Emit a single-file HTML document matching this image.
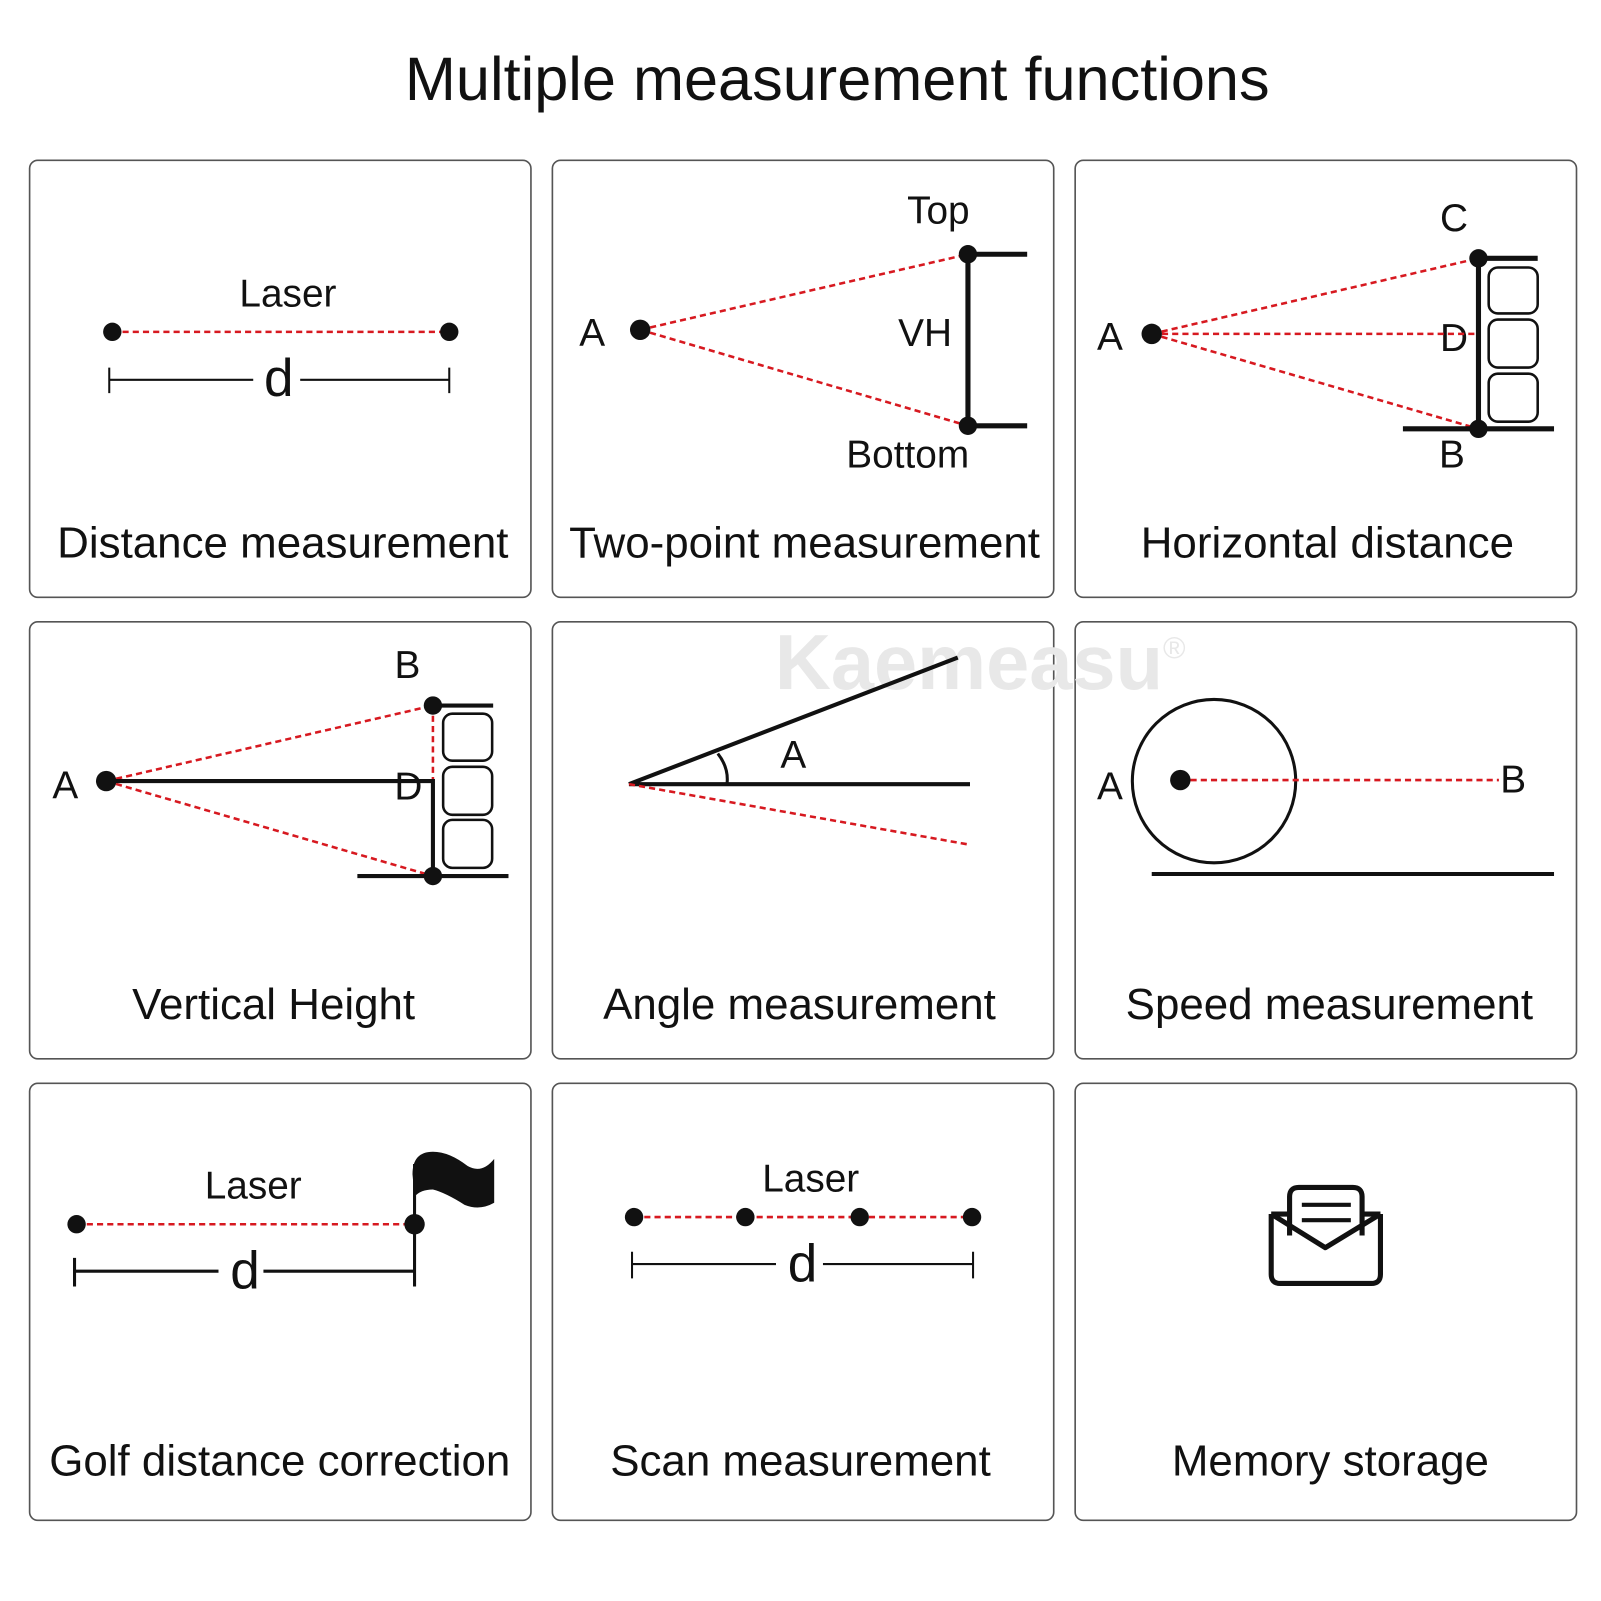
<!DOCTYPE html>
<html><head><meta charset="utf-8"><style>html,body{margin:0;padding:0;background:#fff}svg{display:block}</style></head>
<body>
<svg width="1601" height="1601" viewBox="0 0 1568 1568" xmlns="http://www.w3.org/2000/svg" font-family="Liberation Sans, Arial, sans-serif">
<rect width="1568" height="1568" fill="#fff"/>
<text x="820" y="98" font-size="60" text-anchor="middle" fill="#111">Multiple measurement functions</text>
<g fill="none" stroke="#555" stroke-width="1.6">
<rect x="29" y="157" width="491" height="428" rx="8"/>
<rect x="541" y="157" width="491" height="428" rx="8"/>
<rect x="1053" y="157" width="491" height="428" rx="8"/>
<rect x="29" y="609" width="491" height="428" rx="8"/>
<rect x="541" y="609" width="491" height="428" rx="8"/>
<rect x="1053" y="609" width="491" height="428" rx="8"/>
<rect x="29" y="1061" width="491" height="428" rx="8"/>
<rect x="541" y="1061" width="491" height="428" rx="8"/>
<rect x="1053" y="1061" width="491" height="428" rx="8"/>
</g>
<text x="960" y="675" font-size="76" font-weight="bold" text-anchor="middle" fill="#e8e8e8">Kaemeasu<tspan font-size="30" dy="-30" font-weight="normal">®</tspan></text>
<g font-size="43" fill="#111" text-anchor="middle">
<text x="277" y="546">Distance measurement</text>
<text x="788" y="546">Two-point measurement</text>
<text x="1300" y="546">Horizontal distance</text>
<text x="268" y="998">Vertical Height</text>
<text x="783" y="998">Angle measurement</text>
<text x="1302" y="998">Speed measurement</text>
<text x="274" y="1445">Golf distance correction</text>
<text x="784" y="1445">Scan measurement</text>
<text x="1303" y="1445">Memory storage</text>
</g>
<g font-size="38" fill="#111" text-anchor="middle">
<text x="282" y="300">Laser</text>
<line x1="110" y1="325" x2="440" y2="325" stroke="#d71920" stroke-width="2.5" stroke-dasharray="6,4"/>
<circle cx="110" cy="325" r="9"/><circle cx="440" cy="325" r="9"/>
<path d="M107 360v25M107 372H248M294 372H440M440 360v25" stroke="#111" stroke-width="2" fill="none"/>
<text x="273" y="388" font-size="52">d</text>
<text x="919" y="219">Top</text><text x="580" y="339">A</text><text x="906" y="339">VH</text><text x="889" y="458">Bottom</text>
<path d="M627 323L948 249M627 323L948 417" stroke="#d71920" stroke-width="2.5" stroke-dasharray="6,4" fill="none"/>
<path d="M948 249V417M948 249H1006M948 417H1006" stroke="#111" stroke-width="5" fill="none"/>
<circle cx="627" cy="323" r="10"/><circle cx="948" cy="249" r="9"/><circle cx="948" cy="417" r="9"/>
<text x="1424" y="226">C</text><text x="1087" y="343">A</text><text x="1424" y="344">D</text><text x="1422" y="458">B</text>
<path d="M1128 327L1448 253M1128 327L1448 327M1128 327L1448 420" stroke="#d71920" stroke-width="2.5" stroke-dasharray="6,4" fill="none"/>
<path d="M1448 253V420M1448 253H1506M1374 420H1522" stroke="#111" stroke-width="5" fill="none"/>
<g fill="none" stroke="#111" stroke-width="2.5"><rect x="1458" y="262" width="48" height="45" rx="9"/><rect x="1458" y="313" width="48" height="47" rx="9"/><rect x="1458" y="366" width="48" height="47" rx="9"/></g>
<circle cx="1128" cy="327" r="10"/><circle cx="1448" cy="253" r="9"/><circle cx="1448" cy="420" r="9"/>
<text x="399" y="664">B</text><text x="64" y="782">A</text><text x="400" y="783">D</text>
<path d="M104 765L424 691M104 765L424 858M424 691V765" stroke="#d71920" stroke-width="2.5" stroke-dasharray="6,4" fill="none"/>
<path d="M104 765H424V858M424 691H483M350 858H498" stroke="#111" stroke-width="4" fill="none"/>
<g fill="none" stroke="#111" stroke-width="2.5"><rect x="434" y="699" width="48" height="46" rx="9"/><rect x="434" y="751" width="48" height="47" rx="9"/><rect x="434" y="803" width="48" height="47" rx="9"/></g>
<circle cx="104" cy="765" r="10"/><circle cx="424" cy="691" r="9"/><circle cx="424" cy="858" r="9"/>
<path d="M616 768L938 644M616 768H950" stroke="#111" stroke-width="4" fill="none"/>
<path d="M703 738Q714 752 712 768" stroke="#111" stroke-width="3" fill="none"/>
<path d="M616 768L948 827" stroke="#d71920" stroke-width="2.5" stroke-dasharray="6,4" fill="none"/>
<text x="777" y="752">A</text>
<circle cx="1189" cy="765" r="80" fill="none" stroke="#111" stroke-width="3"/>
<path d="M1128 856H1522" stroke="#111" stroke-width="4"/>
<path d="M1156 764H1468" stroke="#d71920" stroke-width="2.5" stroke-dasharray="6,4"/>
<circle cx="1156" cy="764" r="10"/>
<text x="1087" y="783">A</text><text x="1482" y="776">B</text>
<text x="248" y="1174">Laser</text>
<path d="M75 1199H406" stroke="#d71920" stroke-width="2.5" stroke-dasharray="6,4"/>
<path d="M73 1232v28M73 1245H214M258 1245H406M406 1140V1260" stroke="#111" stroke-width="3" fill="none"/>
<path d="M404 1150Q404 1128 424 1128Q440 1128 458 1142Q472 1150 484 1135V1178Q470 1186 455 1180Q436 1168 424 1165Q412 1165 406 1172Z"/>
<circle cx="75" cy="1199" r="9"/><circle cx="406" cy="1199" r="10"/>
<text x="240" y="1262" font-size="52">d</text>
<text x="794" y="1167">Laser</text>
<path d="M621 1192H952" stroke="#d71920" stroke-width="2.5" stroke-dasharray="6,4"/>
<circle cx="621" cy="1192" r="9"/><circle cx="730" cy="1192" r="9"/><circle cx="842" cy="1192" r="9"/><circle cx="952" cy="1192" r="9"/>
<path d="M619 1226v26M619 1238H760M806 1238H953M953 1226v26" stroke="#111" stroke-width="2" fill="none"/>
<text x="786" y="1255" font-size="52">d</text>
<g fill="none" stroke="#111" stroke-width="5" stroke-linejoin="round">
<path d="M1263 1210V1172Q1263 1163 1272 1163H1325Q1334 1163 1334 1172V1210" fill="#fff"/>
<path d="M1245 1189V1248Q1245 1257 1254 1257H1343Q1352 1257 1352 1248V1189M1245 1189H1263M1334 1189H1352"/>
<path d="M1245 1189L1298 1222L1352 1189"/>
<path d="M1275 1180H1323M1275 1195H1323" stroke-width="4"/>
</g>
</g>
</svg>
</body></html>
